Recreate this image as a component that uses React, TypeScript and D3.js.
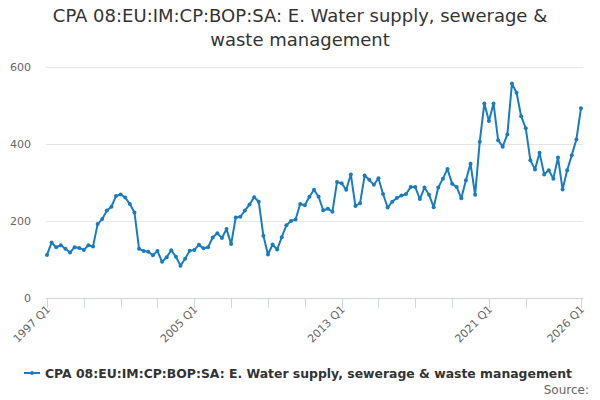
import React, { useEffect, useRef } from "react";
import * as d3 from "d3";

const firstYear = 1997;
const values: number[] = [
  112, 144, 132, 137, 128, 118, 132, 130, 125, 137, 134, 192, 205, 227, 237, 265,
  269, 261, 244, 222, 128, 122, 120, 111, 122, 94, 106, 124, 107, 84, 102, 123,
  125, 138, 129, 132, 157, 168, 156, 179, 140, 209, 211, 227, 243, 262, 250, 162,
  113, 139, 126, 158, 189, 200, 204, 244, 241, 263, 281, 263, 228, 232, 224, 301,
  298, 281, 321, 239, 246, 318, 307, 294, 311, 270, 235, 250, 260, 266, 270, 288,
  288, 257, 287, 268, 236, 287, 310, 335, 297, 288, 259, 306, 349, 268, 406, 505,
  460, 505, 410, 393, 425, 557, 533, 472, 441, 358, 334, 377, 321, 332, 310, 365,
  282, 332, 371, 412, 493,
];
const quarterLabels = values.map(
  (_, i) => `${firstYear + Math.floor(i / 4)} Q${(i % 4) + 1}`
);
const tickIndexes = [0, 8, 16, 24, 32, 40, 48, 56, 64, 72, 80, 88, 96, 104, 116];
const labelIndexes = [0, 32, 64, 96, 116];
const yTicks = [0, 200, 400, 600];

const titleLines = [
  "CPA 08:EU:IM:CP:BOP:SA: E. Water supply, sewerage &",
  "waste management",
];
const seriesName =
  "CPA 08:EU:IM:CP:BOP:SA: E. Water supply, sewerage & waste management";

const width = 600;
const height = 400;
const plot = { left: 46, right: 583, top: 67, bottom: 298 };
const lineColor = "#1a7cc0";
const font = "'DejaVu Sans', Verdana, sans-serif";

const App = () => {
  const ref = useRef<SVGSVGElement>(null);

  useEffect(() => {
    const svg = d3.select(ref.current);
    svg.selectAll("*").remove();

    const x = d3.scaleLinear().domain([0, values.length - 1]).range([47, 581]);
    const y = d3.scaleLinear().domain([0, 600]).range([plot.bottom, plot.top]);

    // title
    svg
      .append("text")
      .attr("x", width / 2)
      .attr("y", 22)
      .attr("text-anchor", "middle")
      .style("font-family", font)
      .style("font-size", "18px")
      .attr("fill", "#333")
      .selectAll("tspan")
      .data(titleLines)
      .enter()
      .append("tspan")
      .attr("x", width / 2)
      .attr("dy", (_, i) => (i === 0 ? 0 : 24))
      .text((d) => d);

    // grid + y labels
    svg
      .selectAll("line.grid")
      .data(yTicks.filter((t) => t > 0))
      .enter()
      .append("line")
      .attr("class", "grid")
      .attr("x1", plot.left)
      .attr("x2", plot.right)
      .attr("y1", (d) => y(d) + 0.5)
      .attr("y2", (d) => y(d) + 0.5)
      .attr("stroke", "#e6e6e6");
    svg
      .selectAll("text.ylab")
      .data(yTicks)
      .enter()
      .append("text")
      .attr("class", "ylab")
      .attr("x", 31)
      .attr("y", (d) => y(d) + 4)
      .attr("text-anchor", "end")
      .style("font-family", font)
      .style("font-size", "11px")
      .attr("fill", "#666")
      .text((d) => d);

    // x axis
    svg
      .append("line")
      .attr("x1", plot.left)
      .attr("x2", plot.right)
      .attr("y1", plot.bottom + 0.5)
      .attr("y2", plot.bottom + 0.5)
      .attr("stroke", "#ccd6eb");
    svg
      .selectAll("line.tick")
      .data(tickIndexes)
      .enter()
      .append("line")
      .attr("class", "tick")
      .attr("x1", (d) => Math.round(x(d)) + 0.5)
      .attr("x2", (d) => Math.round(x(d)) + 0.5)
      .attr("y1", plot.bottom)
      .attr("y2", plot.bottom + 10)
      .attr("stroke", "#ccd6eb");
    svg
      .selectAll("text.xlab")
      .data(labelIndexes)
      .enter()
      .append("text")
      .attr("class", "xlab")
      .attr(
        "transform",
        (d) => `translate(${x(d) + 4},${plot.bottom + 12}) rotate(-45)`
      )
      .attr("text-anchor", "end")
      .style("font-family", font)
      .style("font-size", "11px")
      .attr("fill", "#666")
      .text((d) => quarterLabels[d]);

    // series
    const line = d3
      .line<number>()
      .x((_, i) => x(i))
      .y((d) => y(d));
    svg
      .append("path")
      .datum(values)
      .attr("d", line)
      .attr("fill", "none")
      .attr("stroke", lineColor)
      .attr("stroke-width", 2)
      .attr("stroke-linejoin", "round");
    svg
      .selectAll("circle.pt")
      .data(values)
      .enter()
      .append("circle")
      .attr("class", "pt")
      .attr("cx", (_, i) => x(i))
      .attr("cy", (d) => y(d))
      .attr("r", 2)
      .attr("fill", lineColor);

    // legend
    const lg = svg.append("g").attr("transform", "translate(24,373)");
    lg.append("line")
      .attr("x1", 0)
      .attr("x2", 16)
      .attr("stroke", lineColor)
      .attr("stroke-width", 2);
    lg.append("circle").attr("cx", 8).attr("r", 2).attr("fill", lineColor);
    lg.append("text")
      .attr("x", 21)
      .attr("y", 5)
      .attr("textLength", 527)
      .attr("lengthAdjust", "spacingAndGlyphs")
      .style("font-family", font)
      .style("font-size", "12.5px")
      .style("font-weight", "bold")
      .attr("fill", "#333")
      .text(seriesName);

    // credits
    svg
      .append("text")
      .attr("x", 589)
      .attr("y", 394)
      .attr("text-anchor", "end")
      .style("font-family", font)
      .style("font-size", "12px")
      .attr("fill", "#666")
      .text("Source:");
  }, []);

  return (
    <svg
      ref={ref}
      width={width}
      height={height}
      style={{ position: "absolute", left: 0, top: 0, background: "#fff" }}
    ></svg>
  );
};

export default App;
